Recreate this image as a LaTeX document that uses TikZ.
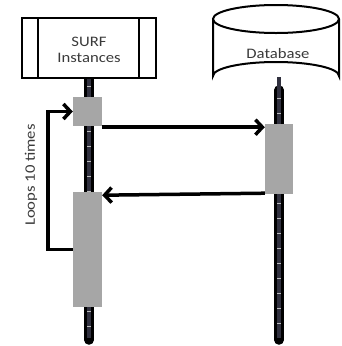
\documentclass[tikz,border=0pt]{standalone}
\usepackage{fontspec}
\setmainfont{Carlito}
\newfontfamily\widefont[FakeStretch=1.15]{Carlito}
\usetikzlibrary{arrows.meta,calc}
\definecolor{actgray}{HTML}{A6A6A6}
\definecolor{lifedark}{HTML}{30303E}
\definecolor{txtgray}{HTML}{3A3A3A}
\tikzset{
  actbox/.style={fill=actgray,draw=none,inner sep=0pt},
  msg/.style={line width=3.5pt,-{Straight Barb[length=7pt,width=15pt,line width=3.5pt]}},
  lifeouter/.style={line width=9.5pt,black,line cap=round},
  lifeinner/.style={line width=4pt,lifedark},
  lifetick/.style={line width=4pt,gray!55,dash pattern=on 1pt off 14pt,dash phase=-8pt},
  lbl/.style={font=\widefont\fontsize{14.5}{16.5}\selectfont,text=txtgray,align=center},
}
\begin{document}
\begin{tikzpicture}[x=1pt,y=-1pt]
\useasboundingbox (0,0) rectangle (341,346);
% lifelines
\coordinate (l1top) at (89,78);
\coordinate (l1bot) at (89,340);
\coordinate (l2top) at (279,90);
\coordinate (l2bot) at (279,340);
\draw[lifeouter] (l1top) -- (l1bot);
\draw[lifeinner] (l1top) -- ($(l1bot)+(0,-2)$);
\draw[lifetick] (l1top) -- ($(l1bot)+(0,-2)$);
\draw[lifeouter] (l2top) -- (l2bot);
\draw[lifeinner] (l2top) -- ($(l2bot)+(0,-2)$);
\draw[lifetick] (l2top) -- ($(l2bot)+(0,-2)$);
% SURF box
\node[draw,line width=2pt,fill=white,minimum width=134pt,minimum height=60pt,inner sep=0pt] (surf) at (89,48) {};
\draw[line width=2pt] ($(surf.north west)+(17,0)$) -- ($(surf.south west)+(17,0)$);
\draw[line width=2pt] ($(surf.north east)+(-18,0)$) -- ($(surf.south east)+(-18,0)$);
\node[lbl] (surftxt) at (89,50) {SURF\\Instances};
% Database cylinder
\draw[line width=2pt,fill=white] (213,19) -- (213,76) arc[start angle=180,end angle=360,x radius=63,y radius=14] -- (339,19);
\draw[line width=2pt,fill=white] (276,19) ellipse[x radius=63,y radius=14];
\draw[line width=4pt,lifedark] (279,77) -- (279,92);
\node[lbl] (db) at (278,54) {Database};
% activation boxes
\node[actbox,minimum width=29pt,minimum height=29pt] (a1) at (87.5,111.5) {};
\node[actbox,minimum width=29pt,minimum height=115pt] (a2) at (87.5,249.5) {};
\node[actbox,minimum width=28pt,minimum height=70pt] (b1) at (279,159) {};
% messages
\draw[msg] ($(a1.south east)+(0,1)$) -- ($(a1.south east -| b1.west)+(0,1)$);
\draw[msg] ($(b1.south west)+(0,-1)$) -- ($(b1.south west -| a2.east)+(0,1)$);
\draw[msg] (a2.west) -- ++(-25,0) |- (a1.west);
\node[lbl,rotate=90] (loops) at (31,175) {Loops 10 times};
\end{tikzpicture}
\end{document}
